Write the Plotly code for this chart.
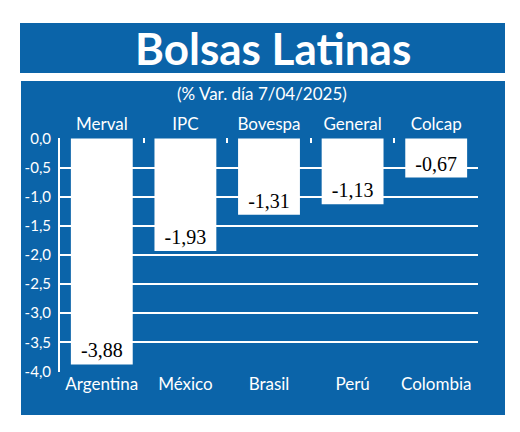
import plotly.graph_objects as go

# Data
countries = ["Argentina", "México", "Brasil", "Perú", "Colombia"]
indices = ["Merval", "IPC", "Bovespa", "General", "Colcap"]
changes = [-3.88, -1.93, -1.31, -1.13, -0.67]
y_ticks = [0.0, -0.5, -1.0, -1.5, -2.0, -2.5, -3.0, -3.5, -4.0]

BLUE = "#0b64a9"
W, H = 520, 432
L, R, T, B = 60, 42, 138, 60


def px_x(px):
    return (px - L) / (W - L - R)


def px_y(py):
    return (H - B - py) / (H - T - B)


def fmt(v, nd):
    return f"{v:.{nd}f}".replace(".", ",")


fig = go.Figure()

fig.add_trace(go.Bar(
    x=countries,
    y=changes,
    marker=dict(color="white", line=dict(width=0)),
    text=[fmt(v, 2) for v in changes],
    textposition="inside",
    insidetextanchor="end",
    textangle=0,
    textfont=dict(family="Liberation Serif", size=20, color="black"),
    hoverinfo="skip",
    showlegend=False,
))

# invisible trace to drive the top axis (index names)
fig.add_trace(go.Scatter(
    x=indices,
    y=[0] * len(indices),
    xaxis="x2",
    mode="markers",
    marker=dict(opacity=0),
    hoverinfo="skip",
    showlegend=False,
))

# blue panels
fig.add_shape(type="rect", xref="paper", yref="paper",
              x0=px_x(20), x1=px_x(505), y0=px_y(73), y1=px_y(23),
              fillcolor=BLUE, line=dict(width=0), layer="below")
fig.add_shape(type="rect", xref="paper", yref="paper",
              x0=px_x(21), x1=px_x(505), y0=px_y(415), y1=px_y(81),
              fillcolor=BLUE, line=dict(width=0), layer="below")

fig.add_annotation(
    text="<b>Bolsas Latinas</b>", xref="paper", yref="paper",
    x=px_x(273), y=px_y(48), xanchor="center", yanchor="middle",
    showarrow=False, font=dict(family="Lato", size=44, color="white"),
)
fig.add_annotation(
    text="(% Var. día 7/04/2025)", xref="paper", yref="paper",
    x=px_x(262), y=px_y(93), xanchor="center", yanchor="middle",
    showarrow=False, font=dict(family="Lato", size=17, color="white"),
)

fig.update_layout(
    width=W, height=H,
    margin=dict(l=L, r=R, t=T, b=B, autoexpand=False),
    paper_bgcolor="white",
    plot_bgcolor="rgba(0,0,0,0)",
    bargap=0.26,
    font=dict(family="Lato", color="white"),
    xaxis=dict(
        type="category", range=[-0.5, 4.5], automargin=False,
        showgrid=False, zeroline=False, showline=False,
        ticks="", tickfont=dict(size=17, color="white"), tickangle=0,
        ticklabelstandoff=0,
    ),
    xaxis2=dict(
        type="category", overlaying="x", side="top", range=[-0.5, 4.5],
        automargin=False,
        showgrid=False, zeroline=False, showline=False,
        ticks="inside", tickson="boundaries", ticklen=5, tickwidth=2,
        tickcolor="white", tickfont=dict(size=17, color="white"), tickangle=0,
        ticklabelstandoff=4,
    ),
    yaxis=dict(
        range=[-4.01, 0.01], automargin=False,
        tickvals=y_ticks,
        ticktext=[fmt(v, 1) for v in y_ticks],
        showgrid=True, gridcolor="white", gridwidth=2,
        zeroline=False,
        showline=True, linecolor="white", linewidth=2,
        ticks="", tickfont=dict(size=15, color="white"),
        ticklabelstandoff=4,
    ),
)

fig.write_html(
    "out.html",
    config={"displayModeBar": False},
    post_script="document.body.style.margin='0';",
)
